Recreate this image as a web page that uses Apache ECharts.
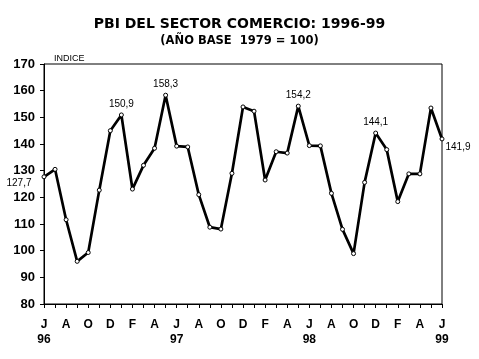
<!DOCTYPE html>
<html>
<head>
<meta charset="utf-8">
<script src="https://cdn.jsdelivr.net/npm/echarts@6/dist/echarts.min.js"></script>
<style>
html,body{margin:0;padding:0;background:#fff;}
#chart{width:479px;height:359px;}
</style>
</head>
<body>
<div id="chart"></div>
<script>
// Monthly, June 1996 – June 1999 (Spanish month initials)
const months = ['J','J','A','S','O','N','D','E','F','M','A','M',
                'J','J','A','S','O','N','D','E','F','M','A','M',
                'J','J','A','S','O','N','D','E','F','M','A','M','J'];
const yearLabels = {0:'96', 12:'97', 24:'98', 36:'99'};
const values = [127.7,130.5,111.6,96.0,99.3,122.7,145.0,150.9,123.1,132.0,138.4,158.3,
                139.2,138.9,121.0,108.8,108.1,129.0,153.9,152.3,126.5,137.1,136.6,154.2,
                139.4,139.3,121.5,108.0,98.9,125.6,144.1,137.9,118.4,128.8,128.8,153.5,141.9];
const labelledIdx = [0,7,11,23,30,36];
const yTicks = [80,90,100,110,120,130,140,150,160,170];

const fmt = v => v.toFixed(1).replace('.', ',');

const seriesData = values.map((v, i) => {
  const item = {value: v};
  if (labelledIdx.includes(i)) {
    let lab = {show: true, position: 'top', distance: 3};
    if (i === 0) lab = {show: true, position: 'left', distance: 10, offset: [0, 6]};
    if (i === labelledIdx[labelledIdx.length - 1]) lab = {show: true, position: 'right', distance: 1, offset: [0, 8]};
    item.label = lab;
  }
  return item;
});

const chart = echarts.init(document.getElementById('chart'));
chart.setOption({
  animation: false,
  backgroundColor: '#fff',
  title: [
    {text: 'PBI DEL SECTOR COMERCIO: 1996-99', left: 'center', top: 12,
     textStyle: {fontFamily: 'DejaVu Sans', fontWeight: 'bold', fontSize: 14, color: '#000'}},
    {text: '(AÑO BASE  1979 = 100)', left: 'center', top: 30,
     textStyle: {fontFamily: 'DejaVu Sans', fontWeight: 'bold', fontSize: 11.5, color: '#000'}},
    {text: 'INDICE', left: 49, top: 49,
     textStyle: {fontFamily: 'Liberation Sans, Arial', fontWeight: 'normal', fontSize: 9, color: '#000'}}
  ],
  grid: {left: 44, right: 37, top: 64, bottom: 55, show: true, borderColor: '#000', borderWidth: 1, backgroundColor: 'transparent'},
  xAxis: {
    type: 'category',
    data: months,
    boundaryGap: false,
    axisLine: {lineStyle: {color: '#000', width: 1}},
    axisTick: {show: true, interval: 0, length: 4, lineStyle: {color: '#000'}},
    axisLabel: {
      interval: 1,
      margin: 13,
      color: '#000',
      fontFamily: 'Liberation Sans, Arial',
      fontWeight: 'bold',
      fontSize: 12,
      lineHeight: 15,
      formatter: (val, idx) => yearLabels[idx] ? val + '\n' + yearLabels[idx] : val
    },
    splitLine: {show: false}
  },
  yAxis: {
    type: 'value',
    min: yTicks[0],
    max: yTicks[yTicks.length - 1],
    interval: 10,
    axisLine: {show: true, lineStyle: {color: '#000', width: 1}},
    axisTick: {show: true, length: 4, lineStyle: {color: '#000'}},
    axisLabel: {color: '#000', fontFamily: 'Liberation Sans, Arial', fontWeight: 'bold', fontSize: 13, margin: 9},
    splitLine: {show: false}
  },
  series: [{
    type: 'line',
    data: seriesData,
    symbol: 'circle',
    symbolSize: 4,
    itemStyle: {color: '#fff', borderColor: '#000', borderWidth: 1},
    lineStyle: {color: '#000', width: 2.7},
    label: {show: false, color: '#000', fontFamily: 'Liberation Sans, Arial', fontSize: 10,
            formatter: p => fmt(p.value)},
    z: 3
  }]
});
</script>
</body>
</html>
